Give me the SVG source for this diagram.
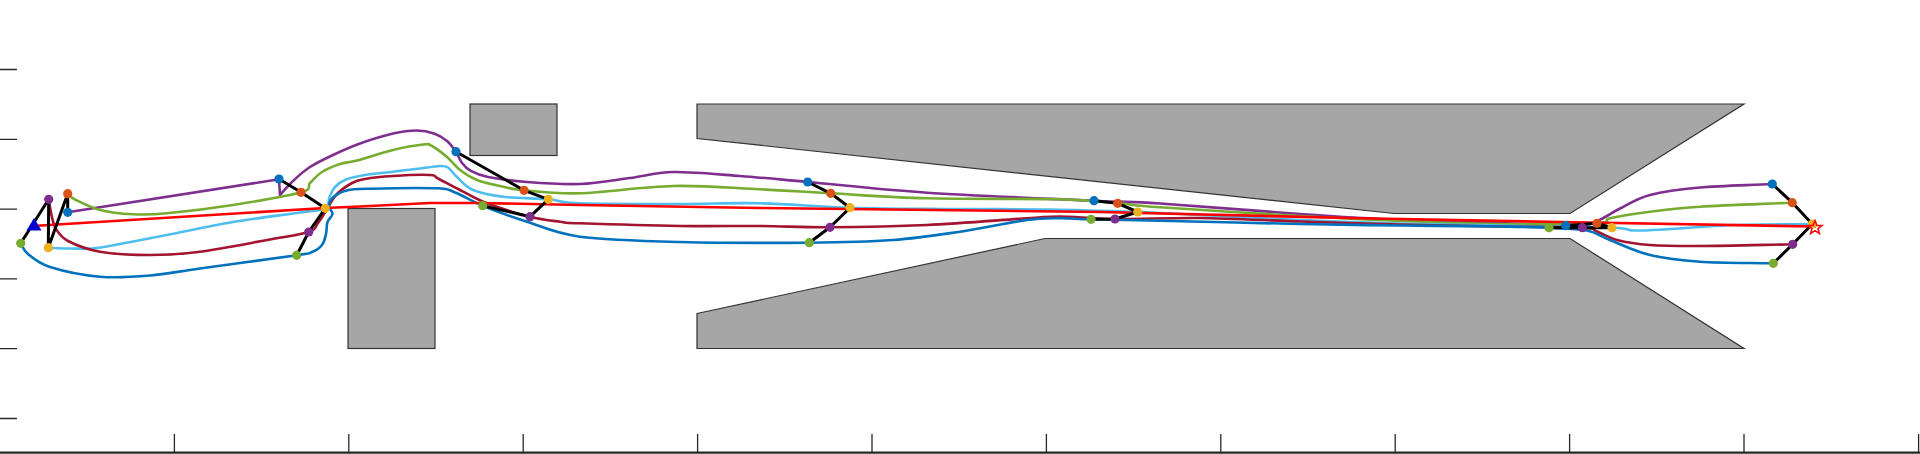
<svg xmlns="http://www.w3.org/2000/svg" width="1920" height="454" viewBox="0 0 1920 454">
<defs>
<style>
.obs{fill:#a6a6a6;stroke:#333;stroke-width:1.2}
.axis{stroke:#262626;stroke-width:1.3;fill:none}
.traj{fill:none;stroke-width:2.6;stroke-linejoin:round;stroke-linecap:round}
.link{fill:none;stroke:#000;stroke-width:3;stroke-linejoin:round;stroke-linecap:round}
.b{fill:#0072BD}.o{fill:#D95319}.y{fill:#EDB120}.p{fill:#7E2F8E}.g{fill:#77AC30}
</style>
</defs>
<rect width="1920" height="454" fill="#fff"/>
<g id="axes" class="axis">
<path d="M0 69.5H17M0 139.3H17M0 209.1H17M0 278.9H17M0 348.7H17M0 418.5H17"/>
<path d="M174.4 434V453M348.8 434V453M523.2 434V453M697.6 434V453M872 434V453M1046.4 434V453M1220.8 434V453M1395.2 434V453M1569.6 434V453M1744 434V453M1918.6 434V453"/>
<path d="M0 452.6H1920" stroke-width="2.2"/>
</g>
<g id="obstacles">
<rect id="box1" class="obs" x="470" y="104" width="87" height="51.5"/>
<rect id="box2" class="obs" x="348" y="208.5" width="87" height="140"/>
<polygon id="wall-top" class="obs" points="697,104 1744,104 1570,213.5 1394,213.5 697,138.5"/>
<polygon id="wall-bottom" class="obs" points="697,313.5 1045,238.5 1570,238.5 1744,348.5 697,348.5"/>
</g>
<g id="connectors">
<path class="traj" stroke="#7E2F8E" d="M67.7 212.3L279 179.3L280 195C284.3 190.3 288 185.7 293 181S303.3 171.3 310 167S324.7 158.9 333 155S350 147.1 360 143.5S383.5 135.7 393 133.5S410.2 130.5 417 130.5S429 131.75 434 133.5S443.3 137.9 447 141S453.5 148.3 456 152S459.5 159.8 462 163S466.7 168.7 471 171S478.7 175.2 488 177S511.7 180.8 527 182S562.8 184.7 580 184S614.5 180 630 178S654.7 172.3 673 172S717.5 174.3 740 176S776.8 179.2 808 182S879.5 189.6 927 192.7S1054.2 198.9 1093 200.7S1125.5 201.3 1160 203.5S1260 211.25 1300 214S1366.7 218.5 1400 220S1472.3 222.05 1500 223S1551 225.5 1566 225.7S1583.5 225.45 1590 224S1600 219.6 1605 217S1612.5 212.2 1620 208.5S1636.7 198.5 1650 195S1679.6 189.3 1700 187.5S1748.2 185.2 1772.3 184"/>
<path class="traj" stroke="#77AC30" d="M67.7 193.7C70.1 195.6 69.6 196.8 75 199.5S90.3 207.5 100 210S121.8 213.75 133 214.3S150.3 214.85 167 213.3S210.7 208.5 233 205S288.2 196 301 192.3S306.5 186.4 310 183S317 175.2 322 172S334.2 165.9 340 164S348.2 162.8 357 160.5S382 152.7 393 150S416.5 145.2 423 144.5S428 143.9 432 146S442.3 153 447 157S455 166.2 460 170S470.3 177.3 477 180S492.2 184.3 500 186S510.7 189.1 524 190.3S555.2 194 580 193.3S643 186.7 673 186S733.7 188.1 760 189.3S802.9 191.8 830.7 193.3S888.8 197.3 927 198.3S1028.2 198.5 1060 199.3S1101 202 1117.7 203.3S1129.6 205.2 1160 207.3S1260 213.7 1300 216S1366.7 219.7 1400 221S1467.2 223.6 1500 224S1578.7 224.3 1597 223.3S1601.2 220.2 1610 218.3S1635 213.6 1650 211.7S1676.3 208.2 1700 206.7S1761.5 204 1792.3 202.7"/>
<path class="traj" stroke="#4DBEEE" d="M48.3 247.7C55.5 248 62.7 248.4 70 248.5S83.7 249.25 92 248.5S107.5 246.25 120 244S148.2 238.7 167 235S210.8 225.75 233 222S284.6 214.8 300 212.5S320.4 210.9 325.3 208.3S327.9 200.6 329.5 197S332.3 189.9 335 187S341 181.5 346 179.5S357.2 176.3 365 175S383.8 172.8 393 171.7S412.2 169.5 420 168.5S435.3 166.2 440 166S445.2 165.7 448 167.5S452.8 173.25 457 177S465 186.7 473 190S492.5 195.5 505 197S535.8 198.25 548.3 199.3S558 202.5 580 203.3S650 204 680 204S731.7 202.7 760 203.3S818.3 206.75 850 207.7S916.7 208.7 950 209S1018.7 209 1050 209.5S1112.7 211.1 1137.7 212S1173 213.7 1200 215S1266.7 218.6 1300 220S1366.7 222.6 1400 223.5S1464.7 224.8 1500 225.5S1589.8 226.9 1612 227.7S1623.8 230.2 1633 230.5S1650.3 230.2 1667 229.3S1708.8 225.9 1733 225S1785.9 224.3 1812.3 224"/>
<path class="traj" stroke="#A2142F" d="M48.7 199.3C49.6 204.5 50.3 210 51.5 215S53.25 224.7 56 229S60.7 237.2 68 241S86.3 249.4 100 251.7S133.3 255 150 255S180.5 254.2 200 251.7S248.9 243.3 267 240S300.2 234.8 308.7 232S315 226.7 318 223S323.5 214.7 326.5 210S331.75 199.5 336 195S347.2 185.7 352 183S358.2 180.2 365 179S382.2 176.7 393 176S422.5 174.6 430 175S433 176 438 178.5S451.8 185.9 460 190S475.3 198.9 487 203.3S517.8 213.6 530 216.7S551.7 220.6 560 221.7S560 222.6 580 223.3S650 225.55 680 226S735 225.8 760 226S802.2 227.5 830 227.3S894.2 226.5 927 225S1004.8 219.7 1027 218.3S1045.3 216.4 1060 216.5S1091.7 218.7 1115 219S1169.2 217.6 1200 218S1266.7 220.4 1300 221.5S1366.7 223.7 1400 224.5S1469.6 226 1500 226.5S1566.1 226.9 1582.3 227.7S1591.2 229.45 1597 231.5S1608.2 237.75 1617 240S1636.2 244 1650 245S1676.2 246.1 1700 246S1761.8 244.9 1792.7 244.3"/>
<path class="traj" stroke="#0072BD" d="M20.7 243.3C23.1 246.9 23.1 250 28 254S38 263.2 50 267S83.3 275.3 100 276.7S133.3 276.9 150 275.5S175.6 271.9 200 268.5S278 258 296.7 255.3S307.8 253.7 312 252S319.7 248 322 245S325.1 237.8 326 234S326.4 225.3 327.5 222S332.25 216.7 332.5 214S328.9 208.75 329 206S330 200.1 333 197.5S340.5 192 346.7 190.5S355 189.1 370 188.7S422.8 187.7 437 188.3S447.4 189.6 455 192.5S470.7 200.8 482.7 205.7S510.8 216.5 527 221.7S554.5 233.3 580 236.7S641.8 241 680 242S773.8 243 809.3 242.7S867.9 241.8 893 240S937.7 235 960 231.7S1010.3 222.2 1027 220S1049.3 218.4 1060 218.3S1074.3 218.9 1091 219.3S1125.2 219.9 1160 220.7S1260 223.2 1300 224S1366.7 225.1 1400 225.5S1475.2 226.1 1500 226.5S1534.5 227 1549 227.7S1576.8 228.45 1587 230.5S1599.5 235.9 1610 240S1635 251.4 1650 255S1679.4 260.3 1700 261.7S1748.9 262.8 1773.3 263.3"/>
<polyline class="traj" stroke="#FF0000" points="33,226 325,208 360,206.5 430,203 480,203 580,205 760,208 1100,212 1360,218.3 1560,222 1815,226.5"/>
</g>
<g id="formation-1">
<polyline class="link" points="20.7,243.3 48.7,199.3 48.3,247.7 67.7,193.7 67.7,212.3"/>
<polygon points="26.5,230.5 34,218 41.5,230.5" fill="#0000CD"/>
<circle class="b" cx="67.7" cy="212.3" r="4.6"/><circle class="o" cx="67.7" cy="193.7" r="4.6"/><circle class="y" cx="48.3" cy="247.7" r="4.6"/><circle class="p" cx="48.7" cy="199.3" r="4.6"/><circle class="g" cx="20.7" cy="243.3" r="4.6"/>
</g>
<g id="formation-2">
<polyline class="link" points="279,179 301,192.3 325.3,208.3 308.7,232 296.7,255.3"/>
<circle class="b" cx="279" cy="179" r="4.6"/><circle class="o" cx="301" cy="192.3" r="4.6"/><circle class="y" cx="325.3" cy="208.3" r="4.6"/><circle class="p" cx="308.7" cy="232" r="4.6"/><circle class="g" cx="296.7" cy="255.3" r="4.6"/>
</g>
<g id="formation-3">
<polyline class="link" points="456,151.7 524,190.3 548.3,199.3 530,216.7 482.7,205.7"/>
<circle class="b" cx="456" cy="151.7" r="4.6"/><circle class="o" cx="524" cy="190.3" r="4.6"/><circle class="y" cx="548.3" cy="199.3" r="4.6"/><circle class="p" cx="530" cy="216.7" r="4.6"/><circle class="g" cx="482.7" cy="205.7" r="4.6"/>
</g>
<g id="formation-4">
<polyline class="link" points="807.7,182 830.7,193.3 850,207.7 830,227.3 809.3,242.7"/>
<circle class="b" cx="807.7" cy="182" r="4.6"/><circle class="o" cx="830.7" cy="193.3" r="4.6"/><circle class="y" cx="850" cy="207.7" r="4.6"/><circle class="p" cx="830" cy="227.3" r="4.6"/><circle class="g" cx="809.3" cy="242.7" r="4.6"/>
</g>
<g id="formation-5">
<polyline class="link" points="1094,200.7 1117.7,203.3 1137.7,212 1115,219 1091,219.3"/>
<circle class="b" cx="1094" cy="200.7" r="4.6"/><circle class="o" cx="1117.7" cy="203.3" r="4.6"/><circle class="y" cx="1137.7" cy="212" r="4.6"/><circle class="p" cx="1115" cy="219" r="4.6"/><circle class="g" cx="1091" cy="219.3" r="4.6"/>
</g>
<g id="formation-6">
<polyline class="link" points="1565.7,225.7 1597,223.3 1612,227.7 1582.3,227.7 1549,227.7"/>
<circle class="g" cx="1549" cy="227.7" r="4.6"/><circle class="b" cx="1565.7" cy="225.7" r="4.6"/><circle class="p" cx="1582.3" cy="227.7" r="4.6"/><circle class="o" cx="1597" cy="223.3" r="4.6"/><circle class="y" cx="1612" cy="227.7" r="4.6"/>
</g>
<g id="formation-7">
<polyline class="link" points="1772.3,184 1792.3,202.7 1812.3,224 1792.7,244.3 1773.3,263.3"/>
<circle class="b" cx="1772.3" cy="184" r="4.6"/><circle class="o" cx="1792.3" cy="202.7" r="4.6"/><circle class="y" cx="1812.3" cy="224" r="4.6"/><circle class="p" cx="1792.7" cy="244.3" r="4.6"/><circle class="g" cx="1773.3" cy="263.3" r="4.6"/>
<polygon points="1815,220.5 1816.9,225.4 1822,225.5 1818,228.6 1819.4,233.5 1815,230.6 1810.6,233.5 1812,228.6 1808,225.5 1813.1,225.4" fill="none" stroke="#FF0000" stroke-width="1.5"/>
</g>
</svg>
